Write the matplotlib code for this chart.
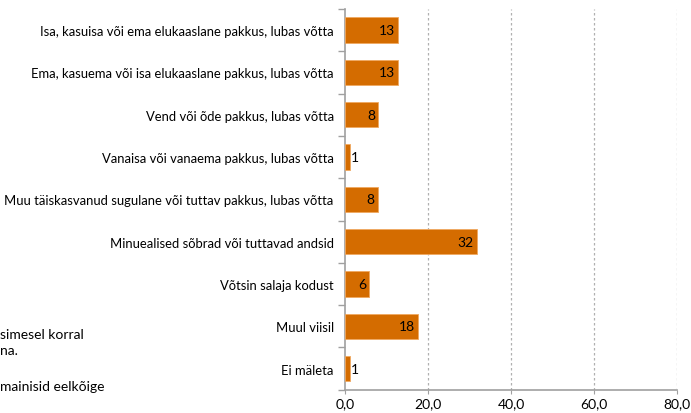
import matplotlib.pyplot as plt
from matplotlib.ticker import FuncFormatter

plt.rcParams['font.family'] = ['Lato', 'DejaVu Sans']

categories = [
    "Isa, kasuisa või ema elukaaslane pakkus, lubas võtta",
    "Ema, kasuema või isa elukaaslane pakkus, lubas võtta",
    "Vend või õde pakkus, lubas võtta",
    "Vanaisa või vanaema pakkus, lubas võtta",
    "Muu täiskasvanud sugulane või tuttav pakkus, lubas võtta",
    "Minuealised sõbrad või tuttavad andsid",
    "Võtsin salaja kodust",
    "Muul viisil",
    "Ei mäleta",
]
values = [12.8, 12.9, 8.1, 1.2, 8.0, 31.7, 5.9, 17.6, 1.2]
x_ticks = [0, 20, 40, 60, 80]
notes = ["simesel korral", "na.", "mainisid eelkõige"]

fig = plt.figure(figsize=(6.91, 4.14), dpi=100)
ax = fig.add_axes([0.499, 0.056, 0.481, 0.920])

y = list(range(len(categories)))
bars = ax.barh(y, values, height=0.6, color="#D46C00", edgecolor="#F0A860", linewidth=0.6, zorder=3)

for b, v in zip(bars, values):
    yc = b.get_y() + b.get_height() / 2
    lab = str(round(v))
    if v < 3:
        ax.text(v + 0.3, yc, lab, va="center", ha="left", fontsize=10, color="black", zorder=4)
    else:
        ax.text(v - 0.8, yc, lab, va="center", ha="right", fontsize=10, color="black", zorder=4)

ax.set_ylim(len(categories) - 0.5, -0.5)
ax.set_xlim(0, 80)
ax.set_xticks(x_ticks)
ax.xaxis.set_major_formatter(FuncFormatter(lambda v, p: f"{v:.1f}".replace(".", ",")))

# category labels between boundary ticks
ax.set_yticks([i - 0.5 for i in range(len(categories) + 1)])
ax.set_yticklabels([])
ax.set_yticks(y, minor=True)
ax.set_yticklabels(categories, minor=True, fontsize=9.4)
ax.tick_params(axis="y", which="minor", length=0, pad=8)
ax.tick_params(axis="y", which="major", length=5, color="#A0A0A0", width=1)
ax.tick_params(axis="x", length=3, color="#A0A0A0", labelsize=10, pad=2.5)

for x in x_ticks[1:]:
    ax.axvline(x, color="#B0B0B0", linestyle=(0, (2, 2)), linewidth=0.9, zorder=1)

for s in ["top", "right"]:
    ax.spines[s].set_visible(False)
ax.spines["left"].set_color("#A0A0A0")
ax.spines["bottom"].set_color("#A0A0A0")
ax.spines["left"].set_linewidth(1.2)
ax.spines["bottom"].set_linewidth(1.2)

fig.text(0.0, 1 - 335 / 414, notes[0], fontsize=10, va="center", ha="left")
fig.text(0.0, 1 - 351 / 414, notes[1], fontsize=10, va="center", ha="left")
fig.text(0.0, 1 - 387 / 414, notes[2], fontsize=10, va="center", ha="left")

fig.savefig("out.png", dpi=100)
